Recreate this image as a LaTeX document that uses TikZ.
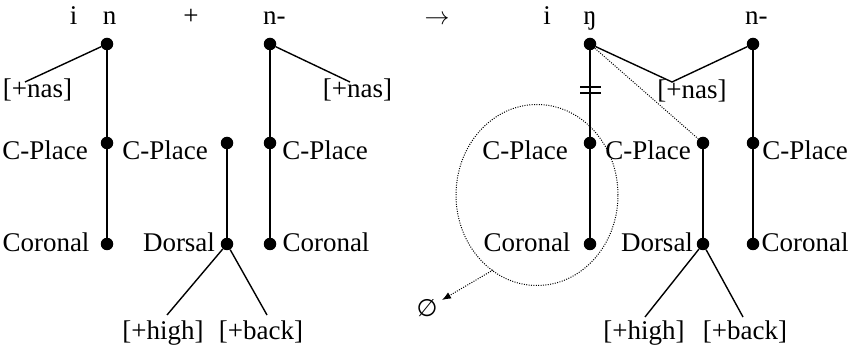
\documentclass[tikz,border=0pt]{standalone}
\usepackage{fontspec}
\setmainfont{Liberation Serif}
\newfontfamily\symfont{DejaVu Sans}
\usetikzlibrary{arrows.meta,shapes.geometric}
\begin{document}
\begin{tikzpicture}[x=1pt,y=-1pt,
  dot/.style={circle,fill=black,inner sep=0pt,minimum size=12.5pt},
  txt/.style={anchor=base,inner sep=0pt,font=\fontsize{27}{31}\selectfont},
  ln/.style={line width=1.4pt},
  dots/.style={line width=1pt,dash pattern=on 1pt off 1.4pt}]
\useasboundingbox (0,0) rectangle (852,355);
% ---------- left side ----------
\node[txt] (i1) at (73.5,25) {i};
\node[txt] (n1) at (109.5,25) {n};
\node[txt] (plus) at (191,25) {+};
\node[txt,anchor=base west] (nm1) at (263,25) {n-};
\node[txt] (arr) at (437,25) {$\rightarrow$};
\node[dot] (r1) at (107,44) {};
\node[dot] (cp1) at (107,143) {};
\node[dot] (co1) at (107,244) {};
\node[dot] (cp2) at (227,143) {};
\node[dot] (do2) at (227,244) {};
\node[dot] (r3) at (270,44) {};
\node[dot] (cp3) at (270,143) {};
\node[dot] (co3) at (270,244) {};
\node[txt] (nas1) at (37.5,98) {[+nas]};
\node[txt] (nas3) at (357.5,98) {[+nas]};
\node[txt] (tcp1) at (45,160) {C-Place};
\node[txt] (tcp2) at (165,160) {C-Place};
\node[txt] (tcp3) at (325,160) {C-Place};
\node[txt] (tco1) at (46,252) {Coronal};
\node[txt] (tdo2) at (179,252) {Dorsal};
\node[txt] (tco3) at (326,252) {Coronal};
\node[txt] (hi2) at (163,340) {[+high]};
\node[txt] (ba2) at (261,340) {[+back]};
\coordinate (e1) at (25,82);
\coordinate (e3) at (350,82);
\coordinate (eh2) at (167,315);
\coordinate (eb2) at (267,315);
\draw[ln] (r1) -- (e1);
\draw[ln] (r1) -- (cp1) -- (co1);
\draw[ln] (cp2) -- (do2);
\draw[ln] (eh2) -- (do2) -- (eb2);
\draw[ln] (r3) -- (e3);
\draw[ln] (r3) -- (cp3) -- (co3);
% ---------- right side ----------
\node[txt] (i4) at (547,25) {i};
\node[txt] (ng4) at (590,25) {ŋ};
\node[txt,anchor=base west] (nm6) at (745,25) {n-};
\node[dot] (r4) at (590,44) {};
\node[dot] (cp4) at (590,143) {};
\node[dot] (co4) at (590,244) {};
\node[dot] (cp5) at (703,143) {};
\node[dot] (do5) at (703,244) {};
\node[dot] (r6) at (753,44) {};
\node[dot] (cp6) at (753,143) {};
\node[dot] (co6) at (753,244) {};
\node[txt] (nas5) at (692,99) {[+nas]};
\node[txt] (tcp4) at (525,160) {C-Place};
\node[txt] (tcp5) at (648,160) {C-Place};
\node[txt] (tcp6) at (805,160) {C-Place};
\node[txt] (tco4) at (527,252) {Coronal};
\node[txt] (tdo5) at (657,252) {Dorsal};
\node[txt] (tco6) at (805,252) {Coronal};
\node[txt] (hi5) at (644,340) {[+high]};
\node[txt] (ba5) at (745,340) {[+back]};
\coordinate (v5) at (672,82);
\coordinate (eh5) at (645,317);
\coordinate (eb5) at (743,317);
\draw[ln] (r4) -- (v5) -- (r6);
\draw[ln] (r4) -- (cp4) -- (co4);
\draw[ln] (cp5) -- (do5);
\draw[ln] (eh5) -- (do5) -- (eb5);
\draw[ln] (r6) -- (cp6) -- (co6);
\draw[dots] (r4) -- (cp5);
% delinking bar
\coordinate (b1l) at (580,87); \coordinate (b1r) at (601,87);
\coordinate (b2l) at (580,93); \coordinate (b2r) at (601,93);
\draw[line width=1.1pt] (b1l) -- (b1r);
\draw[line width=1.1pt] (b2l) -- (b2r);
% ellipse and arrow to empty set
\node[draw,dots,ellipse,minimum width=162pt,minimum height=181pt,inner sep=0pt] (ell) at (537,195) {};
\node[txt,anchor=center,font=\fontsize{24}{28}\selectfont\symfont] (empty) at (427,308) {∅};
\coordinate (as) at (493,270);
\coordinate (at) at (442,300);
\draw[dots,-{Latex[length=9pt,width=7pt]}] (as) -- (at);
\end{tikzpicture}
\end{document}
